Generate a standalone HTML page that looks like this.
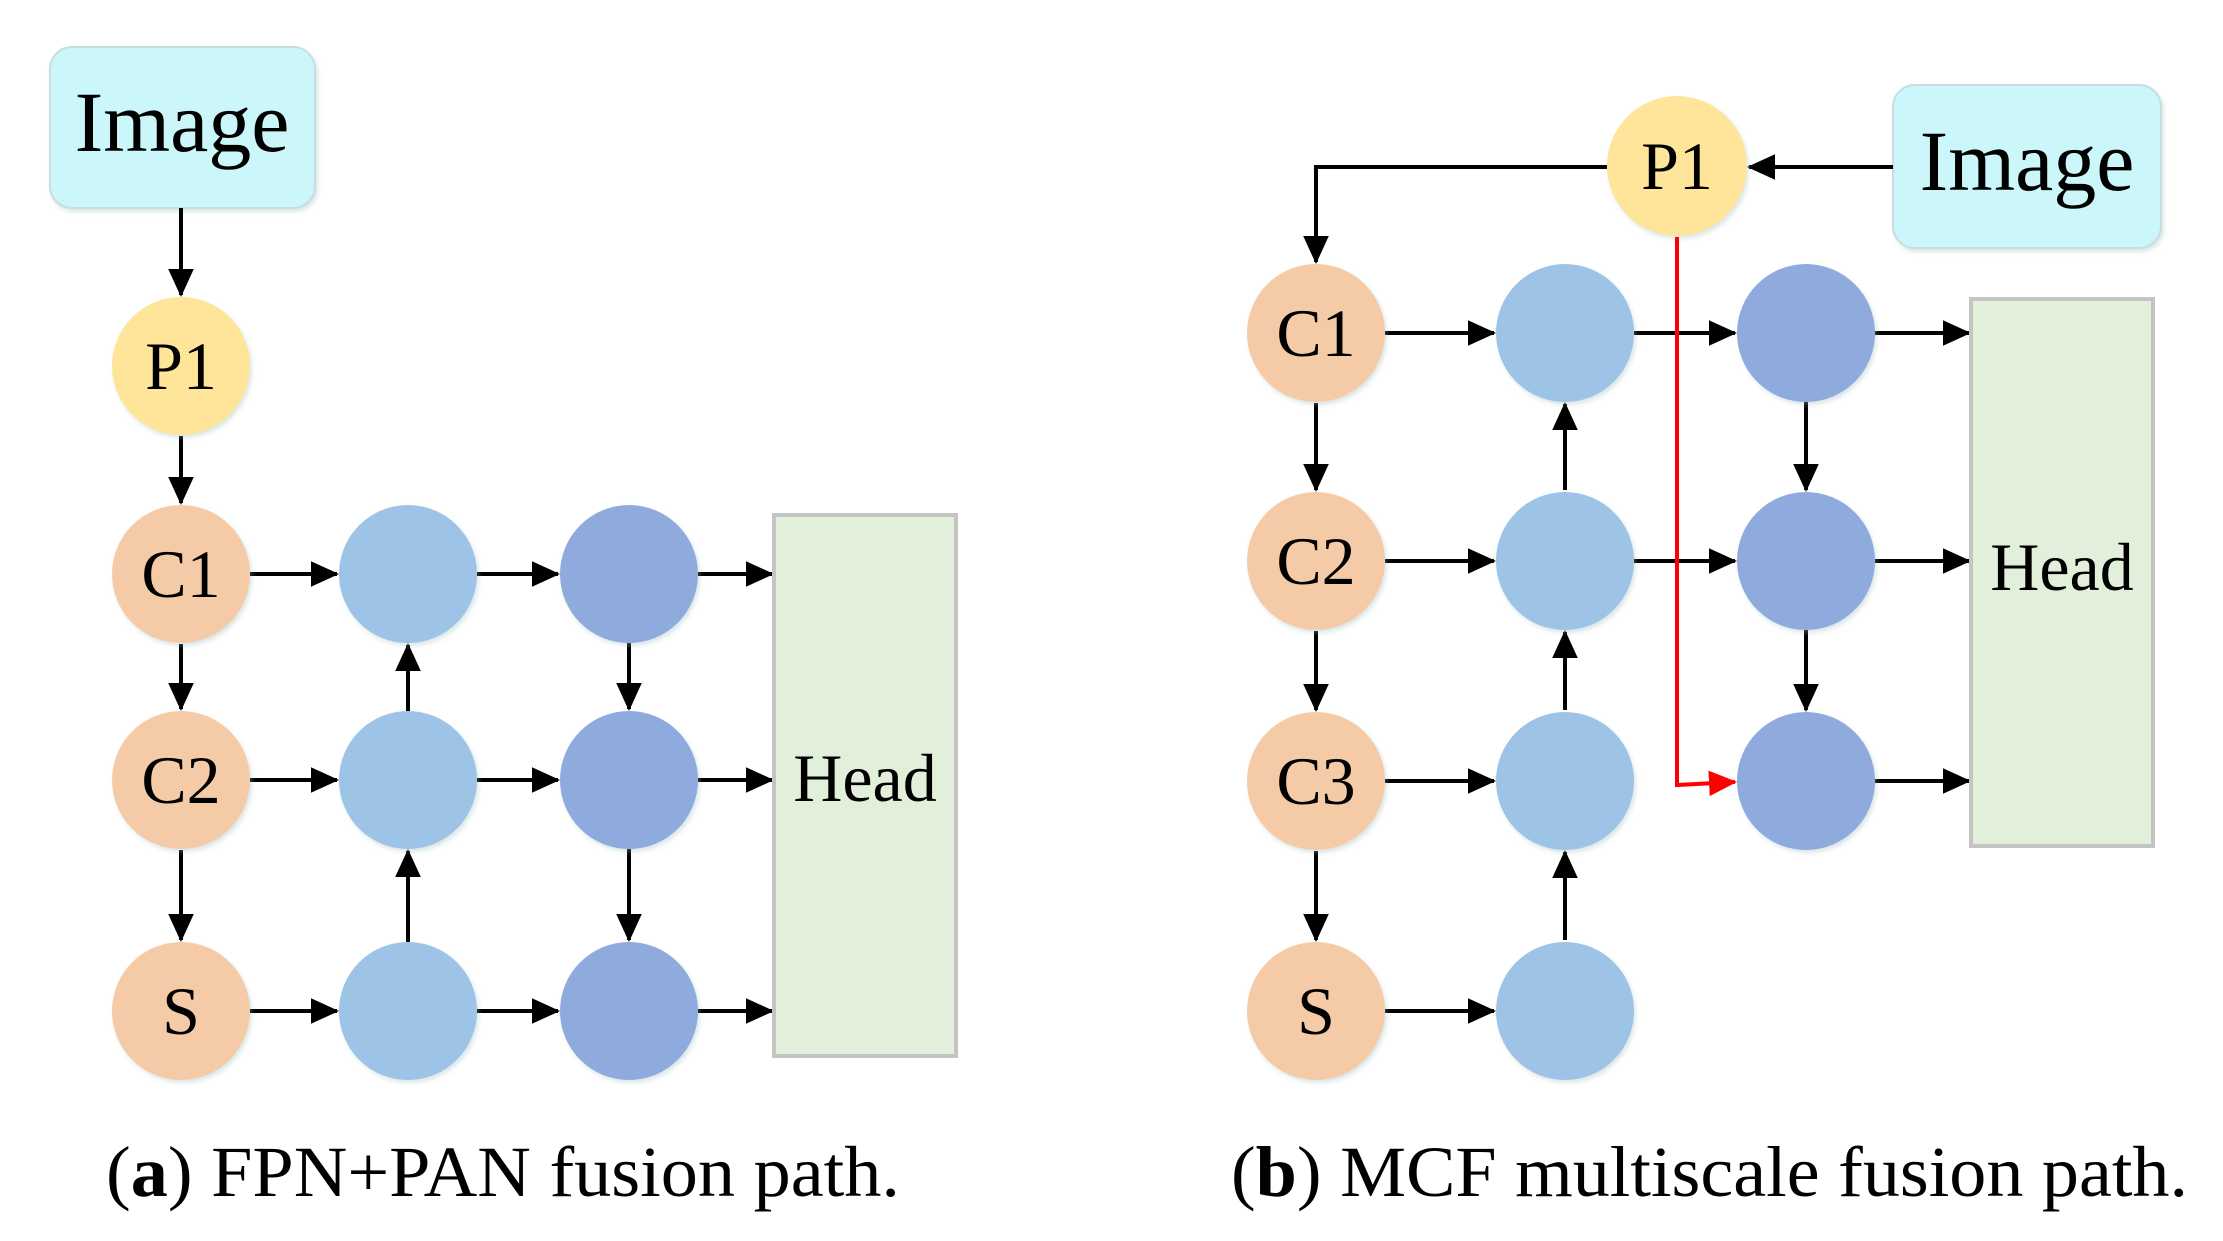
<!DOCTYPE html>
<html><head><meta charset="utf-8"><style>
html,body{margin:0;padding:0;background:#fff;}
svg{display:block;}
text{font-family:"Liberation Serif",serif;fill:#000;}
</style></head><body>
<svg width="2223" height="1241" viewBox="0 0 2223 1241" xmlns="http://www.w3.org/2000/svg">
<defs>
<marker id="a" markerWidth="7" markerHeight="7" refX="6.5" refY="3.5" orient="auto" markerUnits="strokeWidth"><path d="M0,0.3 L7,3.5 L0,6.7 z" fill="#000"/></marker>
<marker id="r" markerWidth="7" markerHeight="7" refX="6.5" refY="3.5" orient="auto" markerUnits="strokeWidth"><path d="M0,0.3 L7,3.5 L0,6.7 z" fill="#f00"/></marker>
<filter id="s" x="-20%" y="-20%" width="140%" height="140%"><feDropShadow dx="2" dy="3" stdDeviation="2" flood-color="#9bb" flood-opacity="0.35"/></filter>
</defs>

<!-- LEFT -->
<rect x="50" y="47" width="265" height="161" rx="22" fill="#ccf7fa" stroke="#c8dde0" stroke-width="2" filter="url(#s)"/>
<text x="182" y="151" font-size="86" text-anchor="middle">Image</text>
<g stroke="#000" stroke-width="4" fill="none">
<line x1="181" y1="208" x2="181" y2="295" marker-end="url(#a)"/>
<line x1="181" y1="436" x2="181" y2="503" marker-end="url(#a)"/>
<line x1="181" y1="644" x2="181" y2="709" marker-end="url(#a)"/>
<line x1="181" y1="850" x2="181" y2="940" marker-end="url(#a)"/>
<line x1="250" y1="574" x2="337" y2="574" marker-end="url(#a)"/>
<line x1="250" y1="780" x2="337" y2="780" marker-end="url(#a)"/>
<line x1="250" y1="1011" x2="337" y2="1011" marker-end="url(#a)"/>
<line x1="477" y1="574" x2="558" y2="574" marker-end="url(#a)"/>
<line x1="477" y1="780" x2="558" y2="780" marker-end="url(#a)"/>
<line x1="477" y1="1011" x2="558" y2="1011" marker-end="url(#a)"/>
<line x1="698" y1="574" x2="772" y2="574" marker-end="url(#a)"/>
<line x1="698" y1="780" x2="772" y2="780" marker-end="url(#a)"/>
<line x1="698" y1="1011" x2="772" y2="1011" marker-end="url(#a)"/>
<line x1="408" y1="711" x2="408" y2="645" marker-end="url(#a)"/>
<line x1="408" y1="942" x2="408" y2="851" marker-end="url(#a)"/>
<line x1="629" y1="643" x2="629" y2="709" marker-end="url(#a)"/>
<line x1="629" y1="849" x2="629" y2="940" marker-end="url(#a)"/>
</g>
<rect x="774" y="515" width="182" height="541" fill="#e2efda" stroke="#c4c4c4" stroke-width="4"/>
<text x="865" y="801" font-size="68" text-anchor="middle">Head</text>
<g filter="url(#s)">
<circle cx="181" cy="366" r="69" fill="#fee599"/>
<circle cx="181" cy="574" r="69" fill="#f5cba7"/>
<circle cx="181" cy="780" r="69" fill="#f5cba7"/>
<circle cx="181" cy="1011" r="69" fill="#f5cba7"/>
<circle cx="408" cy="574" r="69" fill="#9dc3e6"/>
<circle cx="408" cy="780" r="69" fill="#9dc3e6"/>
<circle cx="408" cy="1011" r="69" fill="#9dc3e6"/>
<circle cx="629" cy="574" r="69" fill="#8faadc"/>
<circle cx="629" cy="780" r="69" fill="#8faadc"/>
<circle cx="629" cy="1011" r="69" fill="#8faadc"/>
</g>
<g font-size="68" text-anchor="middle">
<text x="181" y="389">P1</text>
<text x="181" y="597">C1</text>
<text x="181" y="803">C2</text>
<text x="181" y="1034">S</text>
</g>
<text x="106" y="1196" font-size="72" textLength="794" lengthAdjust="spacingAndGlyphs">(<tspan font-weight="bold">a</tspan>) FPN+PAN fusion path.</text>

<!-- RIGHT -->
<rect x="1893" y="85" width="268" height="163" rx="22" fill="#ccf7fa" stroke="#c8dde0" stroke-width="2" filter="url(#s)"/>
<text x="2027" y="190" font-size="86" text-anchor="middle">Image</text>
<g stroke="#000" stroke-width="4" fill="none">
<line x1="1893" y1="167" x2="1749" y2="167" marker-end="url(#a)"/>
<polyline points="1607,167 1316,167 1316,262" marker-end="url(#a)"/>
<line x1="1316" y1="403" x2="1316" y2="490" marker-end="url(#a)"/>
<line x1="1316" y1="631" x2="1316" y2="710" marker-end="url(#a)"/>
<line x1="1316" y1="851" x2="1316" y2="940" marker-end="url(#a)"/>
<line x1="1385" y1="333" x2="1494" y2="333" marker-end="url(#a)"/>
<line x1="1385" y1="561" x2="1494" y2="561" marker-end="url(#a)"/>
<line x1="1385" y1="781" x2="1494" y2="781" marker-end="url(#a)"/>
<line x1="1385" y1="1011" x2="1494" y2="1011" marker-end="url(#a)"/>
<line x1="1634" y1="333" x2="1735" y2="333" marker-end="url(#a)"/>
<line x1="1634" y1="561" x2="1735" y2="561" marker-end="url(#a)"/>
<line x1="1875" y1="333" x2="1969" y2="333" marker-end="url(#a)"/>
<line x1="1875" y1="561" x2="1969" y2="561" marker-end="url(#a)"/>
<line x1="1875" y1="781" x2="1969" y2="781" marker-end="url(#a)"/>
<line x1="1565" y1="490" x2="1565" y2="404" marker-end="url(#a)"/>
<line x1="1565" y1="710" x2="1565" y2="632" marker-end="url(#a)"/>
<line x1="1565" y1="940" x2="1565" y2="852" marker-end="url(#a)"/>
<line x1="1806" y1="402" x2="1806" y2="490" marker-end="url(#a)"/>
<line x1="1806" y1="630" x2="1806" y2="710" marker-end="url(#a)"/>
</g>
<polyline points="1677,237 1677,785 1735,782" stroke="#f00" stroke-width="4" fill="none" marker-end="url(#r)"/>
<rect x="1971" y="299" width="182" height="547" fill="#e2efda" stroke="#c4c4c4" stroke-width="4"/>
<text x="2062" y="590" font-size="68" text-anchor="middle">Head</text>
<g filter="url(#s)">
<circle cx="1677" cy="166" r="70" fill="#fee599"/>
<circle cx="1316" cy="333" r="69" fill="#f5cba7"/>
<circle cx="1316" cy="561" r="69" fill="#f5cba7"/>
<circle cx="1316" cy="781" r="69" fill="#f5cba7"/>
<circle cx="1316" cy="1011" r="69" fill="#f5cba7"/>
<circle cx="1565" cy="333" r="69" fill="#9dc3e6"/>
<circle cx="1565" cy="561" r="69" fill="#9dc3e6"/>
<circle cx="1565" cy="781" r="69" fill="#9dc3e6"/>
<circle cx="1565" cy="1011" r="69" fill="#9dc3e6"/>
<circle cx="1806" cy="333" r="69" fill="#8faadc"/>
<circle cx="1806" cy="561" r="69" fill="#8faadc"/>
<circle cx="1806" cy="781" r="69" fill="#8faadc"/>
</g>
<line x1="1677" y1="237" x2="1677" y2="560" stroke="#f00" stroke-width="4"/>
<g font-size="68" text-anchor="middle">
<text x="1677" y="189">P1</text>
<text x="1316" y="356">C1</text>
<text x="1316" y="584">C2</text>
<text x="1316" y="804">C3</text>
<text x="1316" y="1034">S</text>
</g>
<text x="1231" y="1196" font-size="72" textLength="957" lengthAdjust="spacingAndGlyphs">(<tspan font-weight="bold">b</tspan>) MCF multiscale fusion path.</text>
</svg>
</body></html>
